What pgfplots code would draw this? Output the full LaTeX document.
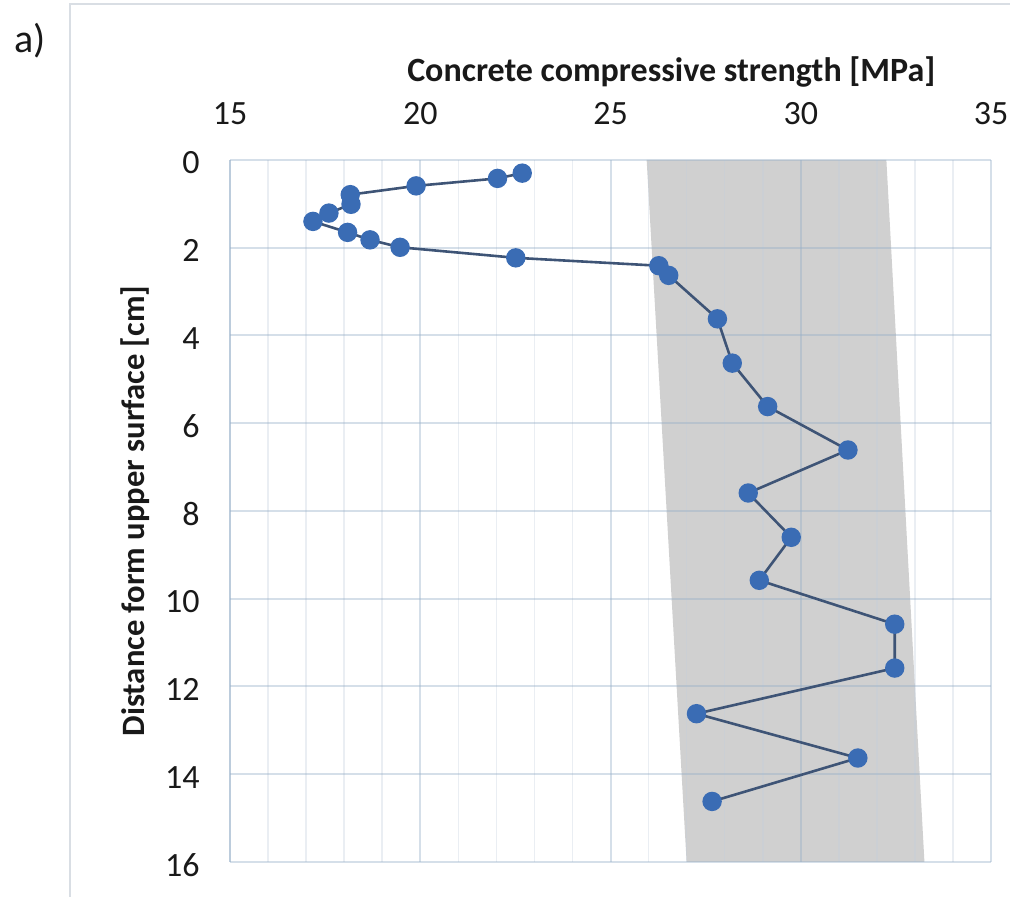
\documentclass[border=0pt]{standalone}
\usepackage{fontspec}
\setmainfont{Carlito}
\usepackage{pgfplots}
\pgfplotsset{compat=1.18}
\definecolor{bandgray}{RGB}{208,208,208}
\definecolor{gridmaj}{RGB}{150,175,200}
\definecolor{gridmin}{RGB}{195,207,220}
\definecolor{axisblue}{RGB}{160,182,206}
\definecolor{framegray}{RGB}{217,222,228}
\definecolor{linecol}{RGB}{62,84,118}
\definecolor{markcol}{RGB}{58,108,180}
\definecolor{txt}{RGB}{25,25,25}
\begin{document}
\begin{tikzpicture}
\draw[framegray, line width=1pt] (35pt,-5pt) -- (35pt,446.5pt) -- (520pt,446.5pt);
\node[font=\fontsize{20}{24}\selectfont, text=txt, inner sep=0pt] at (15pt,428pt) {a)};
\begin{axis}[
  set layers,
  at={(115pt,17.5pt)}, anchor=south west,
  width=380.5pt, height=351pt, scale only axis,
  xmin=15, xmax=35, ymin=0, ymax=16, y dir=reverse,
  xtick={15,20,...,35}, ytick={0,2,...,16},
  minor x tick num=4,
  xmajorgrids, xminorgrids, ymajorgrids,
  major grid style={draw=gridmaj, draw opacity=0.4, line width=1pt},
  minor grid style={draw=gridmin, draw opacity=0.35, line width=0.8pt},
  extra x ticks={15}, extra x tick labels={},
  extra x tick style={grid style={draw=axisblue, draw opacity=1, line width=1.2pt}},
  axis line style={draw=none},
  major tick length=0pt, minor tick length=0pt,
  xticklabel pos=upper,
  /pgf/number format/assume math mode=true,
  ticklabel style={font=\fontsize{17}{20}\selectfont, text=txt, inner sep=0pt},
  xticklabel style={anchor=center, yshift=23pt},
  yticklabel style={anchor=east, yshift=-1.5pt},
  yticklabel shift=15pt,
  xlabel={\textbf{Concrete compressive strength [MPa]}},
  xlabel style={at={(rel axis cs:0.58,1)}, anchor=center, yshift=44pt, font=\fontsize{17}{20}\selectfont, text=txt},
  ylabel={\textbf{Distance form upper surface [cm]}},
  ylabel style={at={(rel axis cs:0,0.5)}, anchor=center, yshift=47.5pt, font=\fontsize{16.3}{19}\selectfont, text=txt},
  clip=false,
]
\addplot[on layer=axis background, fill=bandgray, draw=none]
  coordinates {(25.95,0) (32.25,0) (33.25,16) (27.0,16) (25.95,0)};
\addplot[color=linecol, line width=1.3pt, mark=*, mark size=4.2pt,
  mark options={fill=markcol, draw=markcol}]
  coordinates {
  (22.68,0.30) (22.03,0.42) (19.89,0.59) (18.16,0.79) (18.18,1.01)
  (17.60,1.21) (17.18,1.40) (18.09,1.65) (18.68,1.82) (19.47,1.99)
  (22.51,2.23) (26.27,2.41) (26.53,2.63) (27.81,3.62) (28.20,4.63)
  (29.13,5.62) (31.24,6.61) (28.62,7.59) (29.75,8.60) (28.91,9.58)
  (32.47,10.58) (32.47,11.58) (27.26,12.62) (31.50,13.63) (27.67,14.62)
  };
\end{axis}
\pgfresetboundingbox
\useasboundingbox (0pt,0pt) rectangle (505pt,448.5pt);
\end{tikzpicture}
\end{document}
